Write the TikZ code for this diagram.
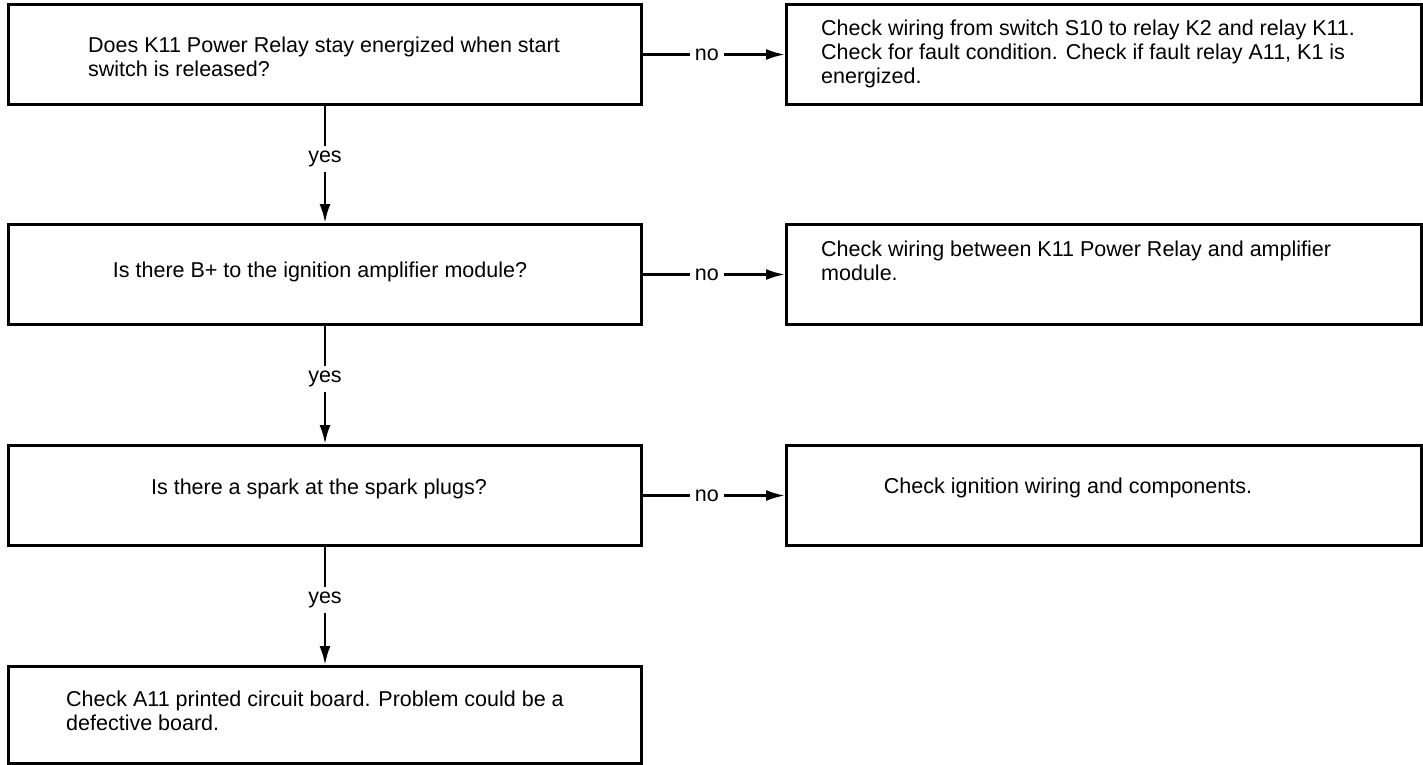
\documentclass[tikz,border=0pt]{standalone}
\usepackage{fontspec}
\setmainfont{Liberation Sans}
\usetikzlibrary{arrows.meta}
\begin{document}
\begin{tikzpicture}[x=1pt,y=-1pt,
  box/.style={draw, line width=3pt, minimum width=633pt, minimum height=100pt, anchor=north west, inner sep=0pt},
  rbox/.style={draw, line width=3pt, minimum width=635pt, minimum height=100pt, anchor=north west, inner sep=0pt},
  txt/.style={font=\fontsize{21.5}{24}\selectfont, align=left, inner sep=0pt},
  ctxt/.style={font=\fontsize{21.5}{24}\selectfont, align=center, inner sep=0pt},
  arr/.style={line width=2.6pt, -{Latex[length=19pt,width=11pt]}},
  lbl/.style={fill=white, font=\fontsize{21.5}{24}\selectfont, inner sep=5pt}
]
\useasboundingbox (0,0) rectangle (1423,764);
% left column
\node[box] (q1) at (7,3) {};
\node[box] (q2) at (7,223) {};
\node[box] (q3) at (7,444) {};
\node[box, minimum height=97pt] (q4) at (7,665) {};
% right column
\node[rbox] (a1) at (785,3) {};
\node[rbox] (a2) at (785,223) {};
\node[rbox] (a3) at (785,444) {};
% texts
\node[txt, anchor=west] (t1) at (88,57) {Does K11 Power Relay stay energized when start\\switch is released?};
\node[ctxt] (t2) at (320,272) {Is there B+ to the ignition amplifier module?};
\node[ctxt] (t3) at (319,489) {Is there a spark at the spark plugs?};
\node[txt, anchor=west] (t4) at (66,711) {Check A11 printed circuit board. Problem could be a\\defective board.};
\node[txt, anchor=west] (ta1) at (821,54) {Check wiring from switch S10 to relay K2 and relay K11.\\Check for fault condition. Check if fault relay A11, K1 is\\energized.};
\node[txt, anchor=west] (ta2) at (821,261) {Check wiring between K11 Power Relay and amplifier\\module.};
\node[ctxt] (ta3) at (1068,488) {Check ignition wiring and components.};
% connectors
\draw[arr] (q1.east) -- node[lbl, pos=0.45]{no} (a1.west);
\draw[arr] (q2.east) -- node[lbl, pos=0.45]{no} (a2.west);
\draw[arr] (q3.east) -- node[lbl, pos=0.45]{no} (a3.west);
\draw[arr] (q1.south) -- node[lbl, pos=0.45]{yes} (q2.north);
\draw[arr] (q2.south) -- node[lbl, pos=0.45]{yes} (q3.north);
\draw[arr] (q3.south) -- node[lbl, pos=0.45]{yes} (q4.north);
\end{tikzpicture}
\end{document}
